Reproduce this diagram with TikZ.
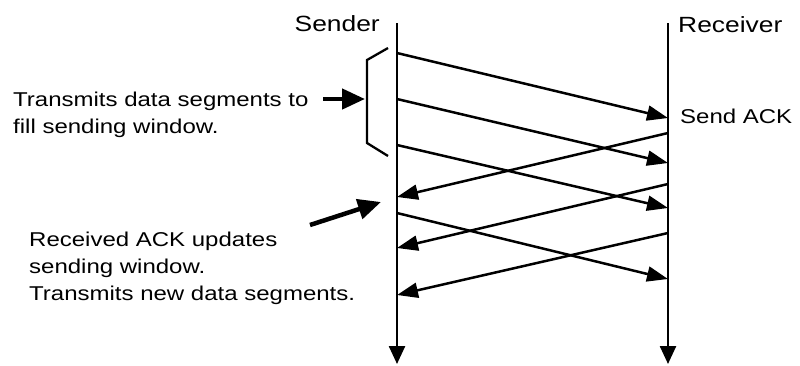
\documentclass[tikz,border=0pt]{standalone}
\usepackage{fontspec}
\setmainfont{Liberation Sans}[FakeStretch=1.2]
\usetikzlibrary{arrows.meta}
\begin{document}
\begin{tikzpicture}[x=1pt,y=-1pt,
  lifeline/.style={line width=2.5pt,-{Triangle[length=18pt,width=16pt]}},
  msg/.style={line width=2.5pt,-{Triangle[length=21pt,width=15pt]}},
  callout/.style={line width=4.5pt,-{Triangle[length=23pt,width=20pt]}},
  bracketline/.style={line width=2.3pt},
  lbl/.style={inner sep=0pt,font=\fontsize{20}{27}\selectfont},
  head/.style={inner sep=0pt,font=\fontsize{22}{27}\selectfont}]
\useasboundingbox (0,0) rectangle (800,365);

% lifelines
\coordinate (sTop) at (397,23);
\coordinate (sBot) at (397,364);
\coordinate (rTop) at (668,23);
\coordinate (rBot) at (668,364);
\draw[lifeline] (sTop) -- (sBot);
\draw[lifeline] (rTop) -- (rBot);

\node[head,anchor=base east] (sender) at (380,31) {Sender};
\node[head,anchor=base west] (receiver) at (678,32) {Receiver};

% points on the sender line
\coordinate (s1) at (397,53);
\coordinate (s2) at (397,99);
\coordinate (s3) at (397,145);
\coordinate (s4) at (397,213);
\coordinate (a1) at (397,197);
\coordinate (a2) at (397,248);
\coordinate (a3) at (397,295);
% points on the receiver line
\coordinate (r1) at (668,118);
\coordinate (r2) at (668,163);
\coordinate (r3) at (668,208);
\coordinate (r4) at (668,279);
\coordinate (b1) at (668,133);
\coordinate (b2) at (668,184);
\coordinate (b3) at (668,233);

% data segments
\draw[msg] (s1) -- (r1);
\draw[msg] (s2) -- (r2);
\draw[msg] (s3) -- (r3);
\draw[msg] (s4) -- (r4);
% acknowledgements
\draw[msg] (b1) -- (a1);
\draw[msg] (b2) -- (a2);
\draw[msg] (b3) -- (a3);

\node[lbl,anchor=base west] (sendack) at (680,123) {Send ACK};

% sending window bracket
\coordinate (k1) at (388,48);
\coordinate (k2) at (367,60);
\coordinate (k3) at (367,143);
\coordinate (k4) at (388,156);
\draw[bracketline] (k1) -- (k2) -- (k3) -- (k4);

% left annotations
\node[lbl,anchor=base west] (t1) at (13,106) {Transmits data segments to};
\node[lbl,anchor=base west] (t2) at (13,133) {fill sending window.};
\coordinate (c1s) at (323,99);
\coordinate (c1e) at (365,99);
\draw[callout] (c1s) -- (c1e);

\node[lbl,anchor=base west] (u1) at (29,246) {Received ACK updates};
\node[lbl,anchor=base west] (u2) at (29,273) {sending window.};
\node[lbl,anchor=base west] (u3) at (29,300) {Transmits new data segments.};
\coordinate (c2s) at (310,225);
\coordinate (c2e) at (381,202);
\draw[callout] (c2s) -- (c2e);
\end{tikzpicture}
\end{document}
